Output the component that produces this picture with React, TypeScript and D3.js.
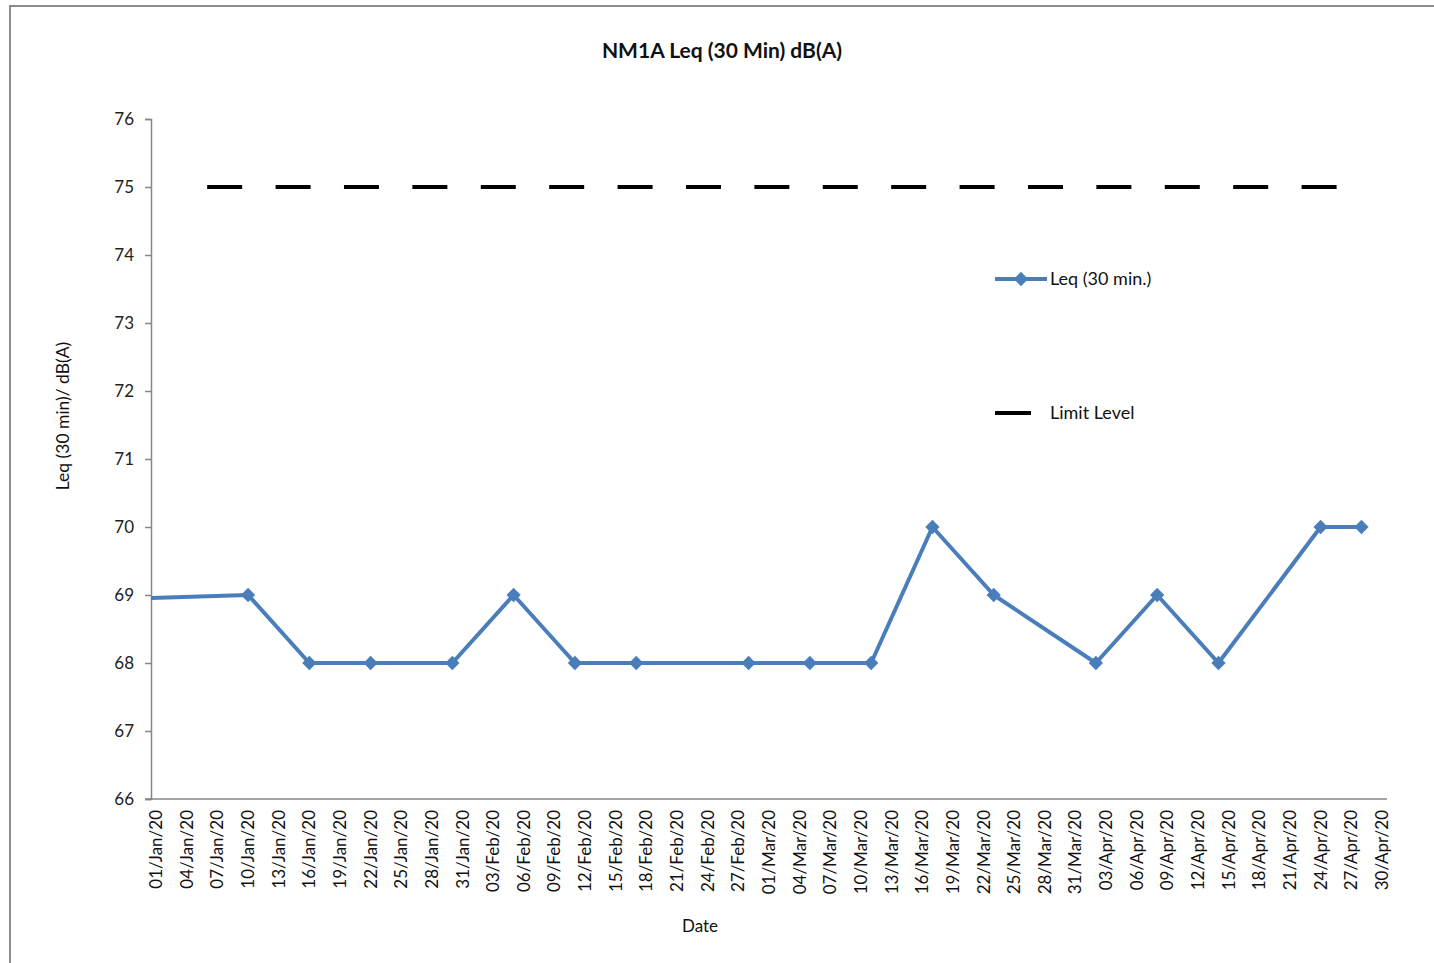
import React, { useEffect, useRef } from 'react';
import * as d3 from 'd3';

// Leq (30 min.) readings; the first one sits before the axis start and is clipped
const leqDates = [
  '2019-12-19', '2020-01-10', '2020-01-16', '2020-01-22', '2020-01-30', '2020-02-05',
  '2020-02-11', '2020-02-17', '2020-02-28', '2020-03-05', '2020-03-11', '2020-03-17',
  '2020-03-23', '2020-04-02', '2020-04-08', '2020-04-14', '2020-04-24', '2020-04-28',
];
const leqValues = [68.9, 69, 68, 68, 68, 69, 68, 68, 68, 68, 68, 70, 69, 68, 69, 68, 70, 70];

const limitDates = ['2020-01-06', '2020-04-28'];
const limitValues = [75, 75];

const yTicks = [66, 67, 68, 69, 70, 71, 72, 73, 74, 75, 76];
const axisStart = '2020-01-01';
const axisEnd = '2020-05-01';

const title = 'NM1A Leq (30 Min) dB(A)';
const yTitle = 'Leq (30 min)/ dB(A)';
const xTitle = 'Date';
const seriesNames = ['Leq (30 min.)', 'Limit Level'];

const parse = d3.timeParse('%Y-%m-%d');
const fmt = d3.timeFormat('%d/%b/%y');
const FONT = 'Lato, "Open Sans", sans-serif';
const BLUE = '#4a7ebb';

const App: React.FC = () => {
  const svgRef = useRef<SVGSVGElement>(null);

  useEffect(() => {
    if (!svgRef.current) return;
    const width = 1434;
    const height = 963;
    const svg = d3.select(svgRef.current).attr('width', width).attr('height', height);
    svg.selectAll('*').remove();

    // outer chart frame
    svg.append('rect')
      .attr('x', 10).attr('y', 6)
      .attr('width', 1440).attr('height', 1000)
      .attr('fill', '#fff').attr('stroke', '#8c8c8c').attr('stroke-width', 2);

    const left = 151, right = 1387, top = 119, bottom = 799;

    // Excel date axis: every day is a bucket, points sit in the middle of it
    const x = d3.scaleTime()
      .domain([parse(axisStart)!, parse(axisEnd)!])
      .range([left, right]);
    const mid = (s: string) => x(d3.timeHour.offset(parse(s)!, 12));
    const y = d3.scaleLinear().domain([66, 76]).range([bottom, top]);

    svg.append('defs').append('clipPath').attr('id', 'plot')
      .append('rect').attr('x', left).attr('y', top - 10)
      .attr('width', right - left).attr('height', bottom - top + 20);

    // y axis
    const yAxis = svg.append('g').attr('transform', `translate(${left},0)`)
      .call(d3.axisLeft(y).tickValues(yTicks).tickSize(6).tickPadding(11).tickFormat(d3.format('d')));
    yAxis.select('.domain').attr('stroke', '#868686').attr('stroke-width', 1.5);
    yAxis.selectAll('.tick line').attr('stroke', '#868686').attr('stroke-width', 1.5);
    yAxis.selectAll('.tick text')
      .attr('font-family', FONT).attr('font-size', 17).attr('fill', '#222');

    // x axis
    const xTickDates = d3.timeDay.range(parse(axisStart)!, parse(axisEnd)!)
      .filter((_, i) => i % 3 === 0);
    svg.append('line')
      .attr('x1', left - 6).attr('x2', right)
      .attr('y1', bottom).attr('y2', bottom)
      .attr('stroke', '#868686').attr('stroke-width', 1.5);
    svg.append('g').selectAll('text')
      .data(xTickDates)
      .enter()
      .append('text')
      .attr('transform', d => `translate(${x(d3.timeHour.offset(d, 12)) + 6},810) rotate(-90)`)
      .attr('text-anchor', 'end')
      .attr('font-family', FONT).attr('font-size', 17).attr('fill', '#111')
      .text(d => fmt(d));

    const plot = svg.append('g').attr('clip-path', 'url(#plot)');

    // limit level
    const limitPts = limitDates.map((d, i) => ({ x: mid(d), y: y(limitValues[i]) }));
    plot.append('path')
      .datum(limitPts)
      .attr('fill', 'none')
      .attr('stroke', '#000')
      .attr('stroke-width', 4)
      .attr('stroke-dasharray', '35 33.4')
      .attr('d', d3.line<any>().x(d => d.x).y(d => d.y));

    // Leq series
    const leqPts = leqDates.map((d, i) => ({ x: mid(d), y: y(leqValues[i]) }));
    plot.append('path')
      .datum(leqPts)
      .attr('fill', 'none')
      .attr('stroke', BLUE)
      .attr('stroke-width', 4)
      .attr('stroke-linejoin', 'round')
      .attr('d', d3.line<any>().x(d => d.x).y(d => d.y));

    const diamond = d3.symbol().type(d3.symbolDiamond2).size(130);
    plot.selectAll('.mk')
      .data(leqPts.filter(p => p.x >= left))
      .enter()
      .append('path')
      .attr('class', 'mk')
      .attr('transform', d => `translate(${d.x},${d.y})`)
      .attr('d', diamond)
      .attr('fill', BLUE);

    // titles
    svg.append('text')
      .attr('x', 722).attr('y', 58)
      .attr('text-anchor', 'middle')
      .attr('font-family', FONT).attr('font-weight', 'bold').attr('font-size', 21)
      .attr('fill', '#111')
      .text(title);
    svg.append('text')
      .attr('transform', 'translate(69,416) rotate(-90)')
      .attr('text-anchor', 'middle')
      .attr('font-family', FONT).attr('font-size', 17.5).attr('fill', '#111')
      .text(yTitle);
    svg.append('text')
      .attr('x', 700).attr('y', 932)
      .attr('text-anchor', 'middle')
      .attr('font-family', FONT).attr('font-size', 17).attr('fill', '#111')
      .text(xTitle);

    // legend
    const lg = svg.append('g');
    lg.append('line')
      .attr('x1', 995).attr('x2', 1047).attr('y1', 279).attr('y2', 279)
      .attr('stroke', BLUE).attr('stroke-width', 4);
    lg.append('path')
      .attr('transform', 'translate(1021,279)')
      .attr('d', diamond).attr('fill', BLUE);
    lg.append('text')
      .attr('x', 1050).attr('y', 285)
      .attr('font-family', FONT).attr('font-size', 18).attr('fill', '#111')
      .text(seriesNames[0]);
    lg.append('line')
      .attr('x1', 995).attr('x2', 1031).attr('y1', 413).attr('y2', 413)
      .attr('stroke', '#000').attr('stroke-width', 4);
    lg.append('text')
      .attr('x', 1050).attr('y', 419)
      .attr('font-family', FONT).attr('font-size', 18).attr('fill', '#111')
      .text(seriesNames[1]);
  }, []);

  return (
    <div style={{ position: 'absolute', left: 0, top: 0, width: 1434, height: 963, overflow: 'hidden', background: '#fff' }}>
      <svg ref={svgRef} style={{ display: 'block' }} />
    </div>
  );
};

export default App;
